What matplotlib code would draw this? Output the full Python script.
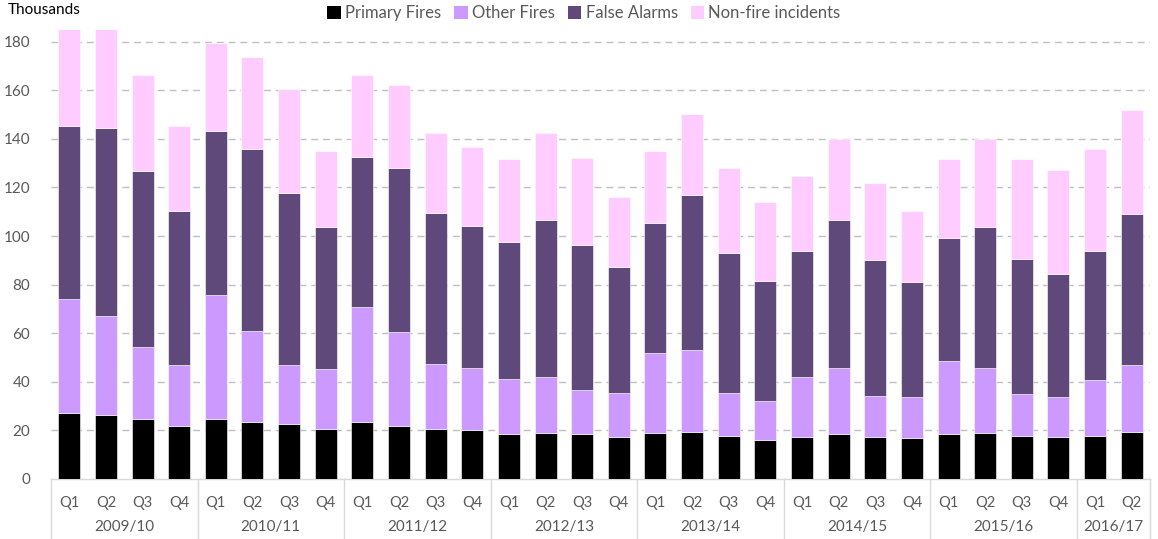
import matplotlib
matplotlib.use("Agg")
import matplotlib.pyplot as plt
import matplotlib.transforms as mtransforms
from matplotlib.lines import Line2D
from matplotlib.patches import Patch
import numpy as np

years = ["2009/10", "2010/11", "2011/12", "2012/13", "2013/14", "2014/15", "2015/16", "2016/17"]
quarters_per_year = [4, 4, 4, 4, 4, 4, 4, 2]
quarter_labels = ["Q1", "Q2", "Q3", "Q4"] * 7 + ["Q1", "Q2"]

primary = [27.0, 26.3, 24.7, 21.8, 24.7, 23.5, 22.5, 20.6,
           23.5, 21.8, 20.6, 20.2, 18.5, 18.9, 18.5, 17.3,
           18.9, 19.5, 17.8, 16.0, 17.3, 18.5, 17.3, 16.7,
           18.5, 18.9, 17.8, 17.3, 17.8, 19.5]
# cumulative tops
other_top = [74.1, 67.2, 54.2, 46.8, 75.8, 61.0, 46.8, 45.1,
             70.6, 60.5, 47.3, 45.7, 41.2, 41.8, 36.6, 35.4,
             51.9, 53.1, 35.4, 32.0, 41.8, 45.7, 34.3, 33.7,
             48.6, 45.7, 34.8, 33.7, 40.6, 46.9]
false_top = [145.1, 144.4, 126.9, 110.4, 143.3, 135.9, 117.8, 103.6,
             132.5, 128.0, 109.3, 104.2, 97.4, 106.4, 96.3, 87.1,
             105.3, 116.7, 92.9, 81.5, 93.8, 106.4, 90.0, 80.9,
             99.0, 103.6, 90.5, 84.2, 93.8, 109.2]
total = [185.0, 185.0, 166.3, 145.3, 179.3, 173.5, 160.5, 135.0,
         166.3, 162.1, 142.4, 136.6, 131.5, 142.4, 132.1, 116.2,
         135.0, 150.3, 128.0, 113.9, 124.7, 140.0, 121.8, 110.4,
         131.5, 140.0, 131.5, 127.0, 136.0, 152.0]

primary = np.array(primary)
other = np.array(other_top) - primary
false_alarms = np.array(false_top) - np.array(other_top)
nonfire = np.array(total) - np.array(false_top)

series_names = ["Primary Fires", "Other Fires", "False Alarms", "Non-fire incidents"]
colors = ["#000000", "#CC99FF", "#5F497A", "#FFCCFF"]

plt.rcParams['font.family'] = ['Lato', 'DejaVu Sans']

fig = plt.figure(figsize=(11.58, 5.39), dpi=100)
ax = fig.add_axes([51/1158, 1 - 479/539, 1099/1158, (479 - 29.5)/539])

x = np.arange(len(primary))
bottom = np.zeros(len(primary))
for vals, col in zip([primary, other, false_alarms, nonfire], colors):
    ax.bar(x, vals, bottom=bottom, width=0.6, color=col, edgecolor="white",
           linewidth=0.4, zorder=3)
    bottom = bottom + vals

ax.set_xlim(-0.5, len(primary) - 0.5)
ax.set_ylim(0, 185)
ax.set_yticks(np.arange(0, 181, 20))
ax.tick_params(axis='y', length=0, labelsize=11, labelcolor="#595959", pad=15)
for yv in range(20, 181, 20):
    ax.axhline(yv, color="#BFBFBF", lw=1.0, ls=(0, (5, 3.5)), zorder=1)

for s in ["top", "right", "left"]:
    ax.spines[s].set_visible(False)
ax.spines["bottom"].set_color("#D9D9D9")
ax.spines["bottom"].set_linewidth(1.0)

ax.set_xticks(x)
ax.set_xticklabels(quarter_labels)
ax.tick_params(axis='x', length=0, labelsize=10.5, labelcolor="#595959", pad=12)

trans = mtransforms.blended_transform_factory(ax.transData, ax.transAxes)
sep_h = 60 / (479 - 29.5)
pos = -0.5
ax.add_line(Line2D([pos, pos], [0, -sep_h], transform=trans, color="#D9D9D9",
                   lw=1.0, clip_on=False))
for yr, n in zip(years, quarters_per_year):
    ax.text(pos + n / 2, -(527 - 479) / (479 - 29.5), yr, transform=trans,
            ha="center", va="center", fontsize=11, color="#595959")
    pos += n
    ax.add_line(Line2D([pos, pos], [0, -sep_h], transform=trans, color="#D9D9D9",
                       lw=1.0, clip_on=False))

fig.text(8/1158, 1 - 10/539, "Thousands", ha="left", va="center", fontsize=11, color="#000000")

handles = [Patch(facecolor=c, edgecolor="none") for c in colors]
fig.legend(handles, series_names, loc="center", bbox_to_anchor=(584/1158, 1 - 13/539),
           ncol=4, frameon=False, fontsize=12, handlelength=0.8, handleheight=0.8,
           handletextpad=0.25, columnspacing=0.8, labelcolor="#595959")

fig.savefig("out.png", dpi=100)
